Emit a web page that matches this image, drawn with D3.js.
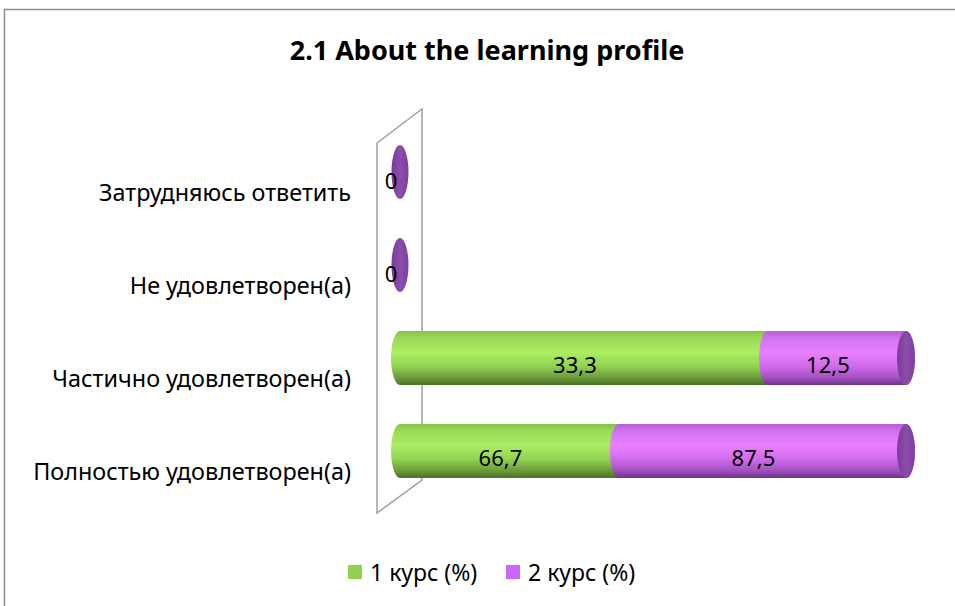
<!DOCTYPE html>
<html>
<head>
<meta charset="utf-8">
<script src="https://cdn.jsdelivr.net/npm/d3@7"></script>
<style>
  body { margin: 0; background: #fff; }
  text { font-family: "Noto Sans", "Open Sans", sans-serif; fill: #000; }
</style>
</head>
<body>
<div id="chart"></div>
<script>
// data (bottom category first)
const categories = [
  "Полностью удовлетворен(а)",
  "Частично удовлетворен(а)",
  "Не удовлетворен(а)",
  "Затрудняюсь ответить"
];
const course1 = [66.7, 33.3, 0, 0];
const course2 = [87.5, 12.5, 0, 0];
const seriesNames = ["1 курс (%)", "2 курс (%)"];
const title = "2.1 About the learning profile";

const width = 955, height = 606;
const ry = 27, rx = 9;

const svg = d3.select("#chart").append("svg")
  .attr("width", width)
  .attr("height", height);

const defs = svg.append("defs");

const palettes = [
  { id: "g1", cap: "#6f9e3c", key: "#92d050",
    stops: [[0, "#86c24a"], [0.15, "#9ddb58"], [0.4, "#abee63"], [0.65, "#93d352"], [0.85, "#6f9e3c"], [1, "#4b7327"]] },
  { id: "g2", cap: "#8646a6", key: "#cc66ff",
    stops: [[0, "#b45fd6"], [0.15, "#d474f2"], [0.4, "#ea80ff"], [0.65, "#d06cec"], [0.85, "#a652c4"], [1, "#6e3288"]] }
];

palettes.forEach((p) => {
  const lg = defs.append("linearGradient")
    .attr("id", p.id)
    .attr("x1", 0).attr("y1", 0).attr("x2", 0).attr("y2", 1);
  p.stops.forEach((s) => {
    lg.append("stop").attr("offset", s[0]).attr("stop-color", s[1]);
  });
});
const capGrad = defs.append("linearGradient")
  .attr("id", "cap")
  .attr("x1", 0).attr("y1", 0).attr("x2", 1).attr("y2", 0);
capGrad.append("stop").attr("offset", 0).attr("stop-color", "#7a3a98");
capGrad.append("stop").attr("offset", 0.5).attr("stop-color", "#8c4cab");
capGrad.append("stop").attr("offset", 1).attr("stop-color", "#7e3e9c");

// outer frame
svg.append("rect")
  .attr("x", 4.5).attr("y", 9.5)
  .attr("width", 960).attr("height", 610)
  .attr("fill", "none")
  .attr("stroke", "#8c8c8c")
  .attr("stroke-width", 1.5);

svg.append("text")
  .attr("x", 487).attr("y", 60)
  .attr("text-anchor", "middle")
  .style("font-size", "27px")
  .style("font-weight", "bold")
  .text(title);

const x = d3.scaleLinear().domain([0, 100]).range([400, 906]);
const y = d3.scalePoint().domain(categories).range([451, 172]);

// back wall
const wall = [[x(0) - 23, 143], [x(0) + 22, 109], [x(0) + 22, 480], [x(0) - 23, 513]];
svg.append("path")
  .attr("d", d3.line()(wall) + "Z")
  .attr("fill", "#fff")
  .attr("stroke", "#a0a0a0")
  .attr("stroke-width", 1.5);

// category labels
svg.append("g").selectAll("text")
  .data(categories)
  .join("text")
  .attr("x", 351)
  .attr("y", (d) => y(d) + 29)
  .attr("text-anchor", "end")
  .style("font-size", "23.4px")
  .text((d) => d);

const locale = d3.formatLocale({ decimal: ",", thousands: " ", grouping: [3], currency: ["", ""] });
const fmt = locale.format(".1~f");

const side = (xa, xb, cy) =>
  `M${xa},${cy - ry}L${xb},${cy - ry}A${rx},${ry} 0 0 1 ${xb},${cy + ry}` +
  `L${xa},${cy + ry}A${rx},${ry} 0 0 1 ${xa},${cy - ry}Z`;

const rows = categories.map((c, i) => {
  const vals = [course1[i], course2[i]];
  const total = d3.sum(vals);
  let acc = 0;
  const segs = vals.map((v, k) => {
    const p = total ? (v / total) * 100 : 0;
    const s = { k, v, x0: acc, x1: acc + p };
    acc += p;
    return s;
  });
  return { c, total, segs };
});

const bars = svg.append("g");
rows.forEach((r) => {
  const cy = y(r.c);
  const g = bars.append("g");
  r.segs.forEach((s) => {
    if (s.x1 > s.x0) {
      g.append("path")
        .attr("d", side(x(s.x0), x(s.x1), cy))
        .attr("fill", `url(#${palettes[s.k].id})`);
    }
  });
  const end = r.total ? 100 : 0;
  g.append("ellipse")
    .attr("cx", x(end)).attr("cy", cy)
    .attr("rx", r.total ? rx : 8.5).attr("ry", ry)
    .attr("fill", "url(#cap)");
  // data labels
  if (r.total) {
    r.segs.forEach((s) => {
      g.append("text")
        .attr("x", (x(s.x0) + x(s.x1)) / 2 - 9)
        .attr("y", cy + 15)
        .attr("text-anchor", "middle")
        .style("font-size", "22px")
        .text(fmt(s.v));
    });
  } else {
    g.append("text")
      .attr("x", x(0) - 9)
      .attr("y", cy + 17)
      .attr("text-anchor", "middle")
      .style("font-size", "22px")
      .text(fmt(r.segs[1].v));
  }
});

// legend
const legend = svg.append("g");
const legendX = [348, 506];
seriesNames.forEach((name, k) => {
  legend.append("rect")
    .attr("x", legendX[k]).attr("y", 565)
    .attr("width", 14).attr("height", 14)
    .attr("fill", palettes[k].key);
  legend.append("text")
    .attr("x", legendX[k] + 22).attr("y", 581)
    .style("font-size", "23px")
    .text(name);
});
</script>
</body>
</html>
